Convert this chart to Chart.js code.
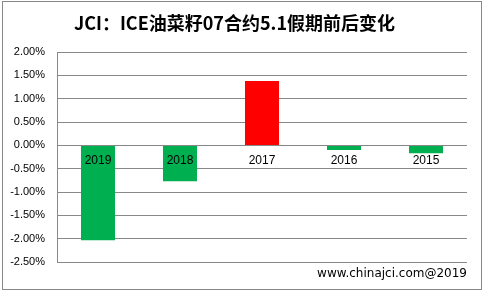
<!DOCTYPE html>
<html lang="zh-cn">
<head>
    <meta charset="UTF-8">
    <title>JCI ICE油菜籽</title>
    <script src="https://cdn.jsdelivr.net/npm/chart.js@4/dist/chart.umd.min.js"></script>
    <style>
        body{
            margin: 0;
            background: #ffffff;
        }
        .divGrafico{
            position: relative;
            width: 483px;
            height: 291px;
        }
        .moldura{
            position: absolute;
            left: 2px;
            top: 1px;
            width: 478px;
            height: 287px;
            border: 1px solid #888888;
            pointer-events: none;
        }
    </style>
</head>
<body>
    <div class="divGrafico">
        <canvas id="grafico" width="483" height="291"></canvas>
        <div class="moldura"></div>
    </div>

    <script>
        // dados (variacao em %)
        const anos = ['2019', '2018', '2017', '2016', '2015'];
        const variacao = [-2.03, -0.77, 1.38, -0.10, -0.17];
        const yMin = -2.5;
        const yMax = 2.0;
        const yPasso = 0.5;

        const verde = '#00B050';
        const vermelho = '#FF0000';
        const cinza = '#888888';

        let ctx = document.getElementById('grafico');

        let grafico = new Chart(ctx, {
            type: 'bar',
            data: {
                labels: anos,
                datasets: [{
                    data: variacao,
                    backgroundColor: variacao.map(v => v >= 0 ? vermelho : verde),
                    borderWidth: 0,
                    categoryPercentage: 1,
                    barPercentage: 0.415
                }]
            },
            options: {
                responsive: false,
                animation: false,
                devicePixelRatio: 1,
                layout: {
                    padding: { left: 2, right: 16, top: 0, bottom: 0 }
                },
                plugins: {
                    legend: { display: false },
                    tooltip: { enabled: false },
                    title: {
                        display: true,
                        text: 'JCI：ICE油菜籽07合约5.1假期前后变化',
                        color: '#000000',
                        font: { family: '"Noto Sans CJK SC", sans-serif', size: 18, weight: 'bold' },
                        padding: { top: 12, bottom: 18.4 }
                    },
                    subtitle: {
                        display: true,
                        position: 'bottom',
                        align: 'end',
                        text: 'www.chinajci.com@2019',
                        color: '#000000',
                        font: { family: '"DejaVu Sans", sans-serif', size: 12 },
                        padding: { top: 4.5, bottom: 10 }
                    }
                },
                scales: {
                    x: {
                        position: { y: 0 },
                        grid: { display: false, drawTicks: false },
                        border: { display: false },
                        ticks: {
                            z: 1,
                            padding: 8,
                            color: '#000000',
                            maxRotation: 0,
                            font: { family: '"Liberation Sans", sans-serif', size: 12 }
                        }
                    },
                    y: {
                        min: yMin,
                        max: yMax,
                        afterFit: (escala) => { escala.width = 55; },
                        grid: { color: cinza, lineWidth: 1, drawTicks: false },
                        border: { display: true, color: cinza, width: 1 },
                        ticks: {
                            stepSize: yPasso,
                            padding: 12,
                            color: '#000000',
                            font: { family: '"Liberation Sans", sans-serif', size: 11 },
                            callback: (v) => v.toFixed(2) + '%'
                        }
                    }
                }
            }
        });
    </script>
</body>
</html>
